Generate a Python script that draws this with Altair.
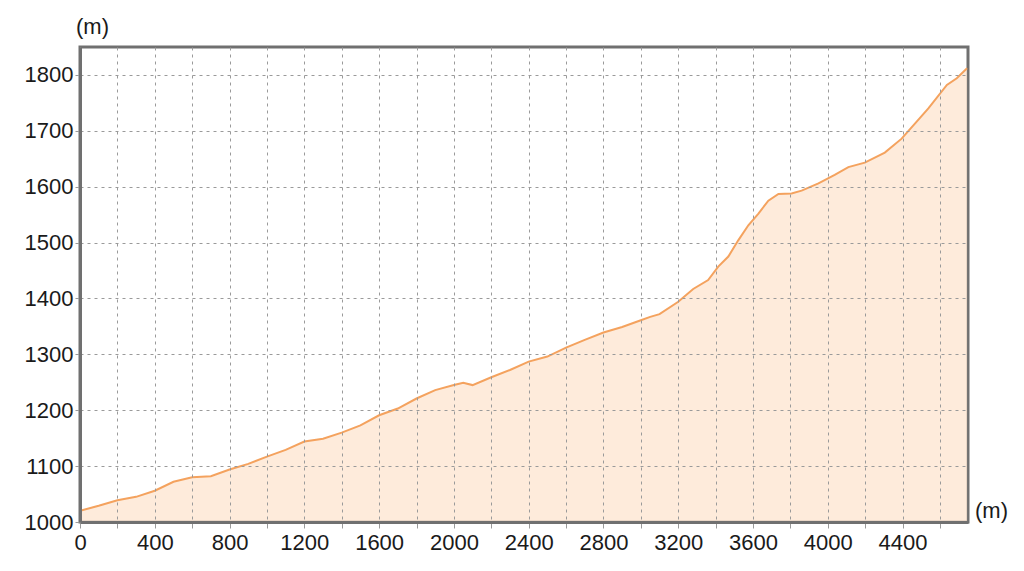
import altair as alt
import pandas as pd

# distance along the route (m) and elevation (m)
dist = [0, 100, 200, 300, 400, 500, 600, 700, 800, 900, 1000, 1100, 1200, 1300,
        1400, 1500, 1600, 1700, 1800, 1900, 2000, 2050, 2100, 2200, 2300, 2400,
        2500, 2600, 2700, 2800, 2900, 3000, 3050, 3100, 3200, 3280, 3360, 3414,
        3468, 3521, 3575, 3629, 3682, 3736, 3806, 3860, 3950, 4037, 4110, 4198,
        4305, 4395, 4466, 4538, 4637, 4690, 4745]
elev = [1020, 1029, 1039, 1045, 1056, 1072, 1080, 1082, 1094, 1104, 1117, 1129,
        1144, 1149, 1160, 1173, 1191, 1203, 1221, 1236, 1245, 1249, 1245, 1259,
        1272, 1287, 1296, 1312, 1326, 1339, 1349, 1361, 1367, 1372, 1394, 1417,
        1433, 1457, 1475, 1504, 1531, 1552, 1575, 1587, 1588, 1593, 1606, 1621,
        1635, 1643, 1661, 1686, 1713, 1740, 1782, 1794, 1812]

x_ticks = list(range(0, 4601, 200))
y_ticks = list(range(1000, 1801, 100))

df = pd.DataFrame({"dist": dist, "elev": elev})

FONT = "Liberation Sans"
common_axis = dict(
    labelFont=FONT, labelFontSize=22, labelColor="#1a1a1a",
    titleFont=FONT, titleFontSize=22, titleFontWeight="normal", titleColor="#1a1a1a",
    grid=True, gridColor="#9a9a9a", gridDash=[3, 4], gridWidth=1,
    domain=True, domainColor="#707070", domainWidth=3,
    tickColor="#9a9a9a", zindex=1,
)

chart = alt.Chart(df).mark_area(
    color="#fde3cc",
    clip=True,
    line={"color": "#f4a25e", "strokeWidth": 2},
).encode(
    x=alt.X("dist:Q",
            scale=alt.Scale(domain=[0, 4750], nice=False, zero=False),
            axis=alt.Axis(values=x_ticks,
                          labelExpr="datum.value % 400 === 0 ? format(datum.value, 'd') : ''",
                          tickSize=6, labelPadding=4,
                          title="(m)", titleAngle=0, titleX=911, titleY=-12,
                          titleAlign="center", titleBaseline="middle",
                          labelFlush=False, labelOverlap=False,
                          **common_axis)),
    y=alt.Y("elev:Q",
            scale=alt.Scale(domain=[1000, 1850], nice=False, zero=False),
            axis=alt.Axis(values=y_ticks, format="d",
                          tickSize=5, labelPadding=2,
                          title="(m)", titleAngle=0, titleX=12, titleY=-21,
                          titleAlign="center", titleBaseline="middle",
                          labelFlush=False, labelOverlap=False,
                          **common_axis)),
).properties(
    width=888, height=475,
    background="white",
    autosize=alt.AutoSizeParams(type="none"),
    padding={"left": 72, "top": 39, "right": 48, "bottom": 41},
).configure_view(
    stroke="#707070", strokeWidth=3, fill="white",
)

chart.save("out.html", embed_options={"renderer": "svg", "actions": False})
